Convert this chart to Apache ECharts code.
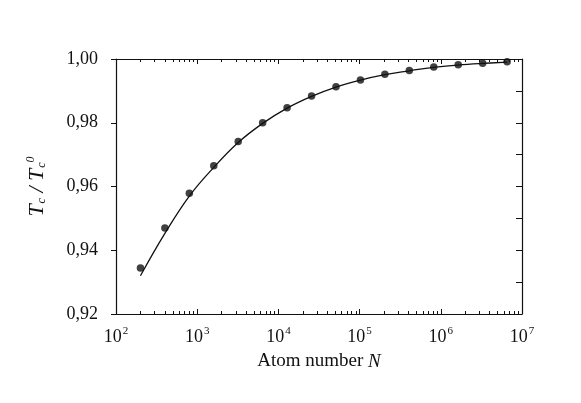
<!DOCTYPE html>
<html>
<head>
<meta charset="utf-8">
<script src="https://cdn.jsdelivr.net/npm/echarts@6/dist/echarts.min.js"></script>
<style>
  html, body { margin: 0; padding: 0; background: #fff; }
  #chart { width: 581px; height: 403px; }
</style>
</head>
<body>
<div id="chart"></div>
<script>
// atom numbers (doubling from 200)
const atomN = [200, 400, 800, 1600, 3200, 6400, 12800, 25600, 51200, 102400,
  204800, 409600, 819200, 1638400, 3276800, 6553600]
// measured Tc / Tc0 (dots)
const tcDots = [0.9344, 0.9470, 0.9579, 0.9665, 0.9741, 0.9800, 0.9847, 0.9884,
  0.9913, 0.9934, 0.9952, 0.9964, 0.9975, 0.9982, 0.9987, 0.9991]
// fitted curve (solid line)
const tcFit = [0.9320, 0.9453, 0.9570, 0.9660, 0.9738, 0.9798, 0.9846, 0.9883,
  0.9912, 0.9934, 0.9951, 0.9963, 0.9974, 0.9981, 0.9986, 0.9990]
// axis ticks
const xMajor = [1e2, 1e3, 1e4, 1e5, 1e6, 1e7]
const xMinor = []
for (let d = 2; d < 7; d++) {
  for (let m = 2; m <= 9; m++) xMinor.push(m * Math.pow(10, d))
}

const ink = '#111'
const serif = 'Liberation Serif'
const chart = echarts.init(document.getElementById('chart'))

const logAxis = (pos, opts) => Object.assign({
  type: 'log',
  logBase: 10,
  position: pos,
  min: 100,
  max: 1e7,
  axisLine: { show: false },
  axisLabel: { show: false },
  splitLine: { show: false },
  axisTick: { show: true, inside: true, length: 5, lineStyle: { color: ink, width: 1 }, customValues: xMajor }
}, opts)

const option = {
  animation: false,
  grid: { left: 116, right: 59, top: 59, bottom: 89 },
  xAxis: [
    logAxis('bottom', {
      axisLine: { show: true, onZero: false, lineStyle: { color: ink, width: 1.2 } },
      axisLabel: {
        show: true,
        customValues: xMajor,
        margin: 12,
        formatter: v => '{b|10}{s|' + Math.round(Math.log10(v)) + '}',
        rich: {
          b: { fontFamily: serif, fontSize: 18, color: ink },
          s: { fontFamily: serif, fontSize: 11, color: ink, padding: [0, 0, 12, 1] }
        }
      },
      name: 'Atom number {i|N}',
      nameLocation: 'middle',
      nameGap: 38,
      nameTextStyle: {
        fontFamily: serif, fontSize: 19, color: ink,
        rich: { i: { fontFamily: serif, fontSize: 19, fontStyle: 'italic', color: ink } }
      }
    }),
    logAxis('bottom', { axisTick: { show: true, inside: true, length: 3, lineStyle: { color: ink, width: 1 }, customValues: xMinor } }),
    logAxis('top', { axisLine: { show: true, onZero: false, lineStyle: { color: ink, width: 1.2 } } }),
    logAxis('top', { axisTick: { show: true, inside: true, length: 3, lineStyle: { color: ink, width: 1 }, customValues: xMinor } })
  ],
  yAxis: [
    {
      type: 'value',
      position: 'left',
      min: 0.92,
      max: 1.00,
      interval: 0.02,
      axisLine: { show: true, onZero: false, lineStyle: { color: ink, width: 1.2 } },
      axisTick: { show: true, inside: false, length: 5, lineStyle: { color: ink, width: 1 } },
      splitLine: { show: false },
      axisLabel: {
        margin: 18,
        fontFamily: serif, fontSize: 18, color: ink,
        formatter: v => v.toFixed(2).replace('.', ',')
      },
      name: '{t|T}{s|c}{n| / }{t|T}{s|c}{p|0}',
      nameLocation: 'middle',
      nameGap: 66,
      nameTextStyle: {
        rich: {
          t: { fontFamily: serif, fontSize: 22, fontStyle: 'italic', color: ink },
          n: { fontFamily: serif, fontSize: 22, fontStyle: 'italic', color: ink },
          s: { fontFamily: serif, fontSize: 12, fontStyle: 'italic', color: ink, padding: [9, 0, 0, 1] },
          p: { fontFamily: serif, fontSize: 12, fontStyle: 'italic', color: ink, padding: [0, 0, 13, 0] }
        }
      }
    },
    {
      type: 'value',
      position: 'right',
      min: 0.92,
      max: 1.00,
      interval: 0.01,
      axisLine: { show: true, onZero: false, lineStyle: { color: ink, width: 1.2 } },
      axisTick: { show: true, inside: true, length: 6, lineStyle: { color: ink, width: 1 } },
      splitLine: { show: false },
      axisLabel: { show: false }
    }
  ],
  series: [
    {
      type: 'line',
      data: atomN.map((n, i) => [n, tcFit[i]]),
      smooth: 0.4,
      showSymbol: false,
      symbol: 'none',
      lineStyle: { color: ink, width: 1.3 },
      z: 2
    },
    {
      type: 'scatter',
      data: atomN.map((n, i) => [n, tcDots[i]]),
      symbol: 'circle',
      symbolSize: 7.5,
      itemStyle: { color: ink },
      z: 3
    }
  ]
}
chart.setOption(option)
</script>
</body>
</html>
